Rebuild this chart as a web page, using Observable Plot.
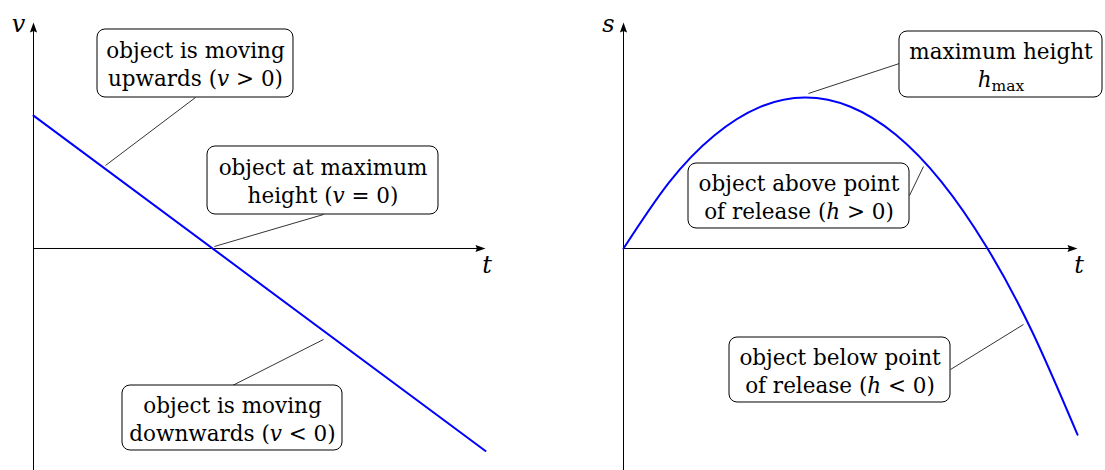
<!DOCTYPE html>
<html>
<head>
<meta charset="utf-8">
<script src="https://cdn.jsdelivr.net/npm/d3@7"></script>
<script src="https://cdn.jsdelivr.net/npm/@observablehq/plot@0.6"></script>
<style>
  html, body { margin: 0; padding: 0; background: white; }
  #wrap { display: flex; width: 1105px; height: 470px; }
  #wrap svg { overflow: visible; }
</style>
</head>
<body>
<div id="wrap"><div id="left"></div><div id="right"></div></div>
<script>
// ---------- data ----------
// velocity–time graph (straight line)
const tLine = [0, 10];
const vLine = [4.43, -6.75];
// displacement–time graph (parabola, read at t = 0..10)
const tCurve = [0, 1, 2, 3, 4, 5, 6, 7, 8, 9, 10];
const sCurve = [0, 2.197, 3.769, 4.714, 5.033, 4.725, 3.792, 2.232, 0.045, -2.768, -6.207];
// axis labels
const leftAxisLabels = ["v", "t"];
const rightAxisLabels = ["s", "t"];
// annotation texts
const leftNotes = [
  "object is moving\nupwards ($v$ > 0)",
  "object at maximum\nheight ($v$ = 0)",
  "object is moving\ndownwards ($v$ < 0)"
];
const rightNotes = [
  "maximum height\n$h$_{max}",
  "object above point\nof release ($h$ > 0)",
  "object below point\nof release ($h$ < 0)"
];

// ---------- layout of annotation boxes (data units) ----------
const leftBoxes = [
  {t1: 1.416, t2: 5.752, y1: 5.033, y2: 7.30, a1: [3.584, 5.033], a2: [1.593, 2.767]},
  {t1: 3.850, t2: 8.960, y1: 1.133, y2: 3.40, a1: [6.416, 1.133], a2: [4.004, 0.067]},
  {t1: 1.969, t2: 6.836, y1: -6.733, y2: -4.567, a1: [4.403, -4.567], a2: [6.416, -3.033]}
].map((b, i) => ({...b, text: leftNotes[i]}));
const rightBoxes = [
  {t1: 6.079, t2: 10.551, y1: 5.033, y2: 7.233, a1: [6.079, 6.167], a2: [4.075, 5.167]},
  {t1: 1.432, t2: 6.300, y1: 0.667, y2: 2.833, a1: [6.300, 1.767], a2: [6.608, 2.733]},
  {t1: 2.335, t2: 7.203, y1: -5.133, y2: -2.967, a1: [7.203, -4.033], a2: [8.811, -2.533]}
].map((b, i) => ({...b, text: rightNotes[i]}));

const Y_DOMAIN = [-7.4, 7.533];
const X_DOMAIN = [0, 10];
const FONT = 21.5;

// filled arrowhead symbol, tip at origin pointing up
const arrowHead = {
  draw(ctx, size) {
    ctx.moveTo(0, 0);
    ctx.lineTo(3.6, 10);
    ctx.lineTo(0, 8.6);
    ctx.lineTo(-3.6, 10);
    ctx.closePath();
  }
};

function panel({width, marginLeft, marginRight, curveX, curveY, curve, boxes, labels}) {
  return Plot.plot({
    width, height: 470,
    marginLeft, marginRight, marginTop: 22, marginBottom: 0,
    x: {domain: X_DOMAIN, axis: null},
    y: {domain: Y_DOMAIN, axis: null},
    style: {fontFamily: "'DejaVu Serif', serif", fontSize: FONT + "px", background: "white", overflow: "visible"},
    marks: [
      // axes
      Plot.ruleX([0], {y1: Y_DOMAIN[0], y2: Y_DOMAIN[1] - 0.25, stroke: "black", strokeWidth: 1}),
      Plot.ruleY([0], {x1: 0, x2: 9.85, stroke: "black", strokeWidth: 1}),
      Plot.dot([0], {x: [0], y: [Y_DOMAIN[1]], symbol: arrowHead, r: 5, fill: "black", stroke: null}),
      Plot.dot([0], {x: [10], y: [0], symbol: arrowHead, r: 5, fill: "black", stroke: null, rotate: 90}),
      // axis labels
      Plot.text([labels[0]], {x: [0], y: [Y_DOMAIN[1]], text: d => d, dx: -15, dy: 2, fontStyle: "italic", fontSize: 24, fill: "black"}),
      Plot.text([labels[1]], {x: [10], y: [0], text: d => d, dx: 1.5, dy: 17, fontStyle: "italic", fontSize: 24, fill: "black"}),
      // the graph
      Plot.line(curveX, {x: curveX, y: curveY, stroke: "#0000ff", strokeWidth: 2, curve}),
      // leader lines
      Plot.link(boxes, {x1: d => d.a1[0], y1: d => d.a1[1], x2: d => d.a2[0], y2: d => d.a2[1], stroke: "black", strokeWidth: 0.8}),
      // boxes
      Plot.rect(boxes, {x1: "t1", x2: "t2", y1: "y1", y2: "y2", fill: "white", stroke: "black", strokeWidth: 1, rx: 8}),
      Plot.text(boxes, {x: d => (d.t1 + d.t2) / 2, y: d => (d.y1 + d.y2) / 2, text: "text", lineHeight: 28 / FONT, fontSize: FONT, fill: "black"})
    ]
  });
}

function richify(svg) {
  const ns = "http://www.w3.org/2000/svg";
  svg.querySelectorAll("text, tspan").forEach(el => {
    if (el.children.length) return;
    const s = el.textContent;
    if (!/[$]|_\{/.test(s)) return;
    el.textContent = "";
    const re = /\$([^$]+)\$|_\{([^}]+)\}/g;
    let last = 0, m;
    while ((m = re.exec(s))) {
      if (m.index > last) el.appendChild(document.createTextNode(s.slice(last, m.index)));
      const ts = document.createElementNS(ns, "tspan");
      if (m[1] !== undefined) {
        ts.setAttribute("font-style", "italic");
        ts.textContent = m[1];
      } else {
        ts.setAttribute("font-size", "15.5");
        ts.setAttribute("dy", "4");
        ts.textContent = m[2];
      }
      el.appendChild(ts);
      last = re.lastIndex;
    }
    if (last < s.length) el.appendChild(document.createTextNode(s.slice(last)));
  });
  return svg;
}

const left = panel({
  width: 552, marginLeft: 33, marginRight: 67,
  curveX: tLine, curveY: vLine, curve: "linear",
  boxes: leftBoxes, labels: leftAxisLabels
});
const right = panel({
  width: 553, marginLeft: 71, marginRight: 28,
  curveX: tCurve, curveY: sCurve, curve: "natural",
  boxes: rightBoxes, labels: rightAxisLabels
});
document.getElementById("left").appendChild(richify(left));
document.getElementById("right").appendChild(richify(right));
</script>
</body>
</html>
